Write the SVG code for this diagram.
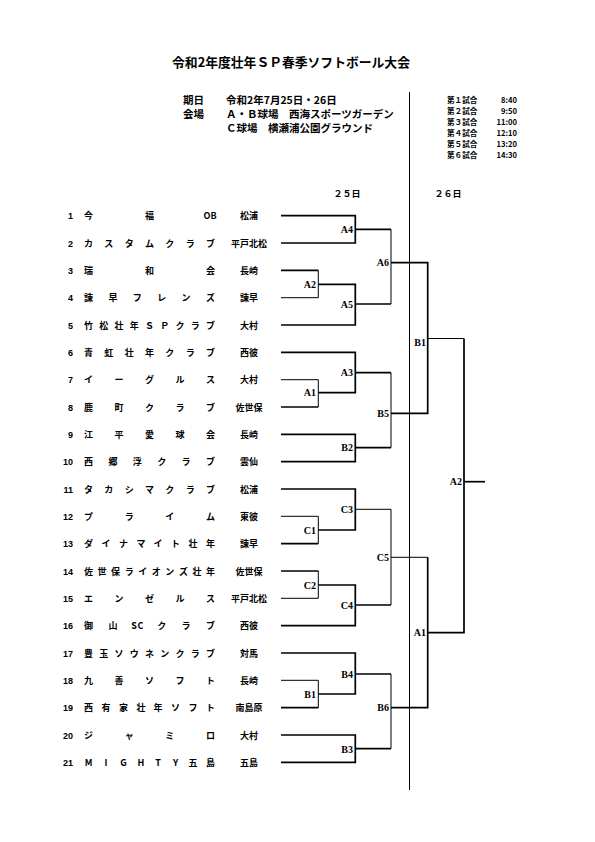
<svg xmlns="http://www.w3.org/2000/svg" width="595" height="842" viewBox="0 0 595 842">
<style>
.j{font-family:"Noto Sans CJK JP","Noto Sans CJK SC",sans-serif;font-weight:bold;fill:#000}
.tt{font-size:12.8px}
.h{font-size:10.5px}
.s{font-size:7.6px}
.n{font-size:9px;text-anchor:middle}
.num{font-family:"Liberation Sans",Arial,sans-serif;font-weight:bold;font-size:9px;text-anchor:end}
.pl{font-size:9px;text-anchor:middle}
.m{font-family:"Liberation Serif","Times New Roman",serif;font-weight:bold;font-size:10px;text-anchor:end}
.k{stroke:#000;fill:none;stroke-width:1.7}
.f{stroke:#000;fill:none;stroke-width:1}
</style>
<rect width="595" height="842" fill="#fff"/>
<g id="title"><text class="j tt" x="291" y="67" text-anchor="middle">令和2年度壮年ＳＰ春季ソフトボール大会</text></g>
<g id="info">
<text class="j h" x="183" y="104">期日</text>
<text class="j h" x="226" y="104">令和2年7月25日・26日</text>
<text class="j h" x="183" y="118">会場</text>
<text class="j h" x="226" y="118">Ａ・Ｂ球場　西海スポーツガーデン</text>
<text class="j h" x="226" y="132">Ｃ球場　横瀬浦公園グラウンド</text>
</g>
<g id="schedule">
<text class="j s" x="447" y="103">第１試合</text><text class="j s" x="517" y="103" text-anchor="end">8:40</text>
<text class="j s" x="447" y="114">第２試合</text><text class="j s" x="517" y="114" text-anchor="end">9:50</text>
<text class="j s" x="447" y="125">第３試合</text><text class="j s" x="517" y="125" text-anchor="end">11:00</text>
<text class="j s" x="447" y="136">第４試合</text><text class="j s" x="517" y="136" text-anchor="end">12:10</text>
<text class="j s" x="447" y="146.5">第５試合</text><text class="j s" x="517" y="146.5" text-anchor="end">13:20</text>
<text class="j s" x="447" y="157.5">第６試合</text><text class="j s" x="517" y="157.5" text-anchor="end">14:30</text>
</g>
<g id="days">
<text class="j n" x="347" y="197">２５日</text>
<text class="j n" x="448" y="197">２６日</text>
</g>
<g id="teams">
<g id="team1"><text class="num" x="73" y="219">1</text><text class="j n" x="88.5 149.5 207 213.5" y="219">今福OB</text><text class="j pl" x="249" y="219">松浦</text></g>
<g id="team2"><text class="num" x="73" y="246.5">2</text><text class="j n" x="88.5 108.8 129.2 149.5 169.8 190.2 210.5" y="246.5">カスタムクラブ</text><text class="j pl" x="249" y="246.5">平戸北松</text></g>
<g id="team3"><text class="num" x="73" y="274">3</text><text class="j n" x="88.5 149.5 210.5" y="274">瑞和会</text><text class="j pl" x="249" y="274">長崎</text></g>
<g id="team4"><text class="num" x="73" y="301">4</text><text class="j n" x="88.5 112.9 137.3 161.7 186.1 210.5" y="301">諫早フレンズ</text><text class="j pl" x="249" y="301">諫早</text></g>
<g id="team5"><text class="num" x="73" y="328.5">5</text><text class="j n" x="88.5 103.75 119 134.25 149.5 164.75 180 195.25 210.5" y="328.5">竹松壮年ＳＰクラブ</text><text class="j pl" x="249" y="328.5">大村</text></g>
<g id="team6"><text class="num" x="73" y="356">6</text><text class="j n" x="88.5 108.8 129.2 149.5 169.8 190.2 210.5" y="356">青虹壮年クラブ</text><text class="j pl" x="249" y="356">西彼</text></g>
<g id="team7"><text class="num" x="73" y="383">7</text><text class="j n" x="88.5 119 149.5 180 210.5" y="383">イーグルス</text><text class="j pl" x="249" y="383">大村</text></g>
<g id="team8"><text class="num" x="73" y="410.5">8</text><text class="j n" x="88.5 119 149.5 180 210.5" y="410.5">鹿町クラブ</text><text class="j pl" x="249" y="410.5">佐世保</text></g>
<g id="team9"><text class="num" x="73" y="438">9</text><text class="j n" x="88.5 119 149.5 180 210.5" y="438">江平愛球会</text><text class="j pl" x="249" y="438">長崎</text></g>
<g id="team10"><text class="num" x="73" y="465">10</text><text class="j n" x="88.5 112.9 137.3 161.7 186.1 210.5" y="465">西郷浮クラブ</text><text class="j pl" x="249" y="465">雲仙</text></g>
<g id="team11"><text class="num" x="73" y="492.5">11</text><text class="j n" x="88.5 108.8 129.2 149.5 169.8 190.2 210.5" y="492.5">タカシマクラブ</text><text class="j pl" x="249" y="492.5">松浦</text></g>
<g id="team12"><text class="num" x="73" y="520">12</text><text class="j n" x="88.5 129.2 169.8 210.5" y="520">プライム</text><text class="j pl" x="249" y="520">東彼</text></g>
<g id="team13"><text class="num" x="73" y="547">13</text><text class="j n" x="88.5 105.9 123.4 140.9 158.1 175.6 193.1 210.5" y="547">ダイナマイト壮年</text><text class="j pl" x="249" y="547">諫早</text></g>
<g id="team14"><text class="num" x="73" y="574.5">14</text><text class="j n" x="88.5 102.1 115.6 129.2 142.7 156.3 169.8 183.4 196.9 210.5" y="574.5">佐世保ライオンズ壮年</text><text class="j pl" x="249" y="574.5">佐世保</text></g>
<g id="team15"><text class="num" x="73" y="602">15</text><text class="j n" x="88.5 119 149.5 180 210.5" y="602">エンゼルス</text><text class="j pl" x="249" y="602">平戸北松</text></g>
<g id="team16"><text class="num" x="73" y="629">16</text><text class="j n" x="88.5 112.9 134 140.5 161.7 186.1 210.5" y="629">御山SCクラブ</text><text class="j pl" x="249" y="629">西彼</text></g>
<g id="team17"><text class="num" x="73" y="656.5">17</text><text class="j n" x="88.5 103.75 119 134.25 149.5 164.75 180 195.25 210.5" y="656.5">豊玉ソウネンクラブ</text><text class="j pl" x="249" y="656.5">対馬</text></g>
<g id="team18"><text class="num" x="73" y="684">18</text><text class="j n" x="88.5 119 149.5 180 210.5" y="684">九善ソフト</text><text class="j pl" x="249" y="684">長崎</text></g>
<g id="team19"><text class="num" x="73" y="711">19</text><text class="j n" x="88.5 105.9 123.4 140.9 158.1 175.6 193.1 210.5" y="711">西有家壮年ソフト</text><text class="j pl" x="249" y="711">南島原</text></g>
<g id="team20"><text class="num" x="73" y="738.5">20</text><text class="j n" x="88.5 129.2 169.8 210.5" y="738.5">ジャミロ</text><text class="j pl" x="249" y="738.5">大村</text></g>
<g id="team21"><text class="num" x="73" y="766">21</text><text class="j n" x="88.5 105.9 123.4 140.9 158.1 175.6 193.1 210.5" y="766">MIGHTY五島</text><text class="j pl" x="249" y="766">五島</text></g>
</g>
<g id="matches">
<text class="m" x="353" y="232.5">A4</text>
<text class="m" x="316" y="288">A2</text>
<text class="m" x="353" y="307.5">A5</text>
<text class="m" x="389" y="266">A6</text>
<text class="m" x="353" y="376">A3</text>
<text class="m" x="316" y="396">A1</text>
<text class="m" x="353" y="451">B2</text>
<text class="m" x="389" y="416.5">B5</text>
<text class="m" x="426" y="346">B1</text>
<text class="m" x="353" y="512.5">C3</text>
<text class="m" x="316" y="533.5">C1</text>
<text class="m" x="316" y="588.5">C2</text>
<text class="m" x="353" y="608.5">C4</text>
<text class="m" x="389" y="560.5">C5</text>
<text class="m" x="353" y="677.5">B4</text>
<text class="m" x="316" y="697.5">B1</text>
<text class="m" x="389" y="711">B6</text>
<text class="m" x="353" y="752.5">B3</text>
<text class="m" x="426" y="636">A1</text>
<text class="m" x="462" y="485">A2</text>
</g>
<g id="connectors">
<line class="f" x1="409.5" y1="92" x2="409.5" y2="790"/>
<path class="k" d="M281 215.7H355.3V243H281"/>
<path class="k" d="M355.3 229.3H391"/>
<path class="k" d="M281 270.4H318.3"/>
<path class="f" d="M318.3 270.4V297.7H281"/>
<path class="k" d="M318.3 284.3H355.3V325H281"/>
<path class="k" d="M355.3 304H391"/>
<path class="f" d="M391 229.3V304"/>
<path class="k" d="M391 262.7H427.7V413.3H391"/>
<path class="k" d="M281 352.4H355.3V392.7H318.3"/>
<path class="k" d="M281 407H318.3"/>
<path class="f" d="M318.3 407V379.7H281"/>
<path class="k" d="M355.3 372.7H391"/>
<path class="k" d="M281 434.3H355.3V461.7H281"/>
<path class="k" d="M355.3 447.7H391"/>
<path class="f" d="M391 372.7V447.7"/>
<path class="f" d="M427.7 338.5H464"/>
<path class="k" d="M464 338.5V632.7H427.7"/>
<path class="k" d="M464 481.7H485"/>
<path class="k" d="M281 489H355.3V530H318.3"/>
<path class="k" d="M281 543.7H318.3"/>
<path class="f" d="M318.3 543.7V516.3H281"/>
<path class="f" d="M355.3 509.3H391V605"/>
<path class="k" d="M281 571H318.3"/>
<path class="f" d="M318.3 571V598.3H281"/>
<path class="k" d="M318.3 585H355.3V625.7H281"/>
<path class="k" d="M355.3 605H391"/>
<path class="f" d="M391 557.3H427.7"/>
<path class="k" d="M427.7 557.3V707.7H391"/>
<path class="k" d="M281 653H355.3V694H318.3"/>
<path class="k" d="M281 707.7H318.3"/>
<path class="f" d="M318.3 707.7V680.3H281"/>
<path class="k" d="M355.3 674H391"/>
<path class="k" d="M281 735H355.3V762.3H281"/>
<path class="k" d="M355.3 748.7H391"/>
<path class="f" d="M391 674V748.7"/>
</g>
</svg>
